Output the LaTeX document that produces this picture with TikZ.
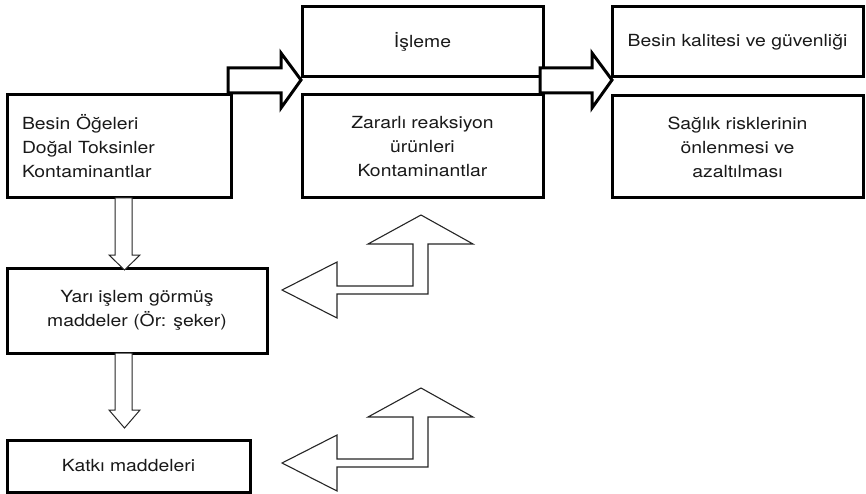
\documentclass[tikz,border=0pt]{standalone}
\usepackage{fontspec}
\setmainfont[FakeStretch=1.16]{TeX Gyre Heros}
\usetikzlibrary{calc}
\tikzstyle{box}=[draw,line width=3pt,inner sep=0pt,outer sep=0pt,align=center,text=black!90,font=\fontsize{16.7}{24}\selectfont]
\tikzstyle{fatarrow}=[draw,line width=3pt,fill=white,line join=miter]
\tikzstyle{hollow}=[draw=black!85,line width=1pt,fill=white]
\tikzstyle{bent}=[draw=black!85,line width=1.1pt,fill=white,line join=miter]

\begin{document}
\begin{tikzpicture}[x=1pt,y=-1pt]
      \useasboundingbox (0,0) rectangle (866,494);
      % left column
      \node[box,minimum width=224pt,minimum height=103pt,text width=194pt,inner xsep=15pt,align=left] (food) at (119,146.5) {Besin Öğeleri\\Doğal Toksinler\\Kontaminantlar};
      \node[box,minimum width=260pt,minimum height=85pt] (semi) at (137,310.5) {Yarı işlem görmüş\\maddeler (Ör: şeker)};
      \node[box,minimum width=243pt,minimum height=52pt] (additive) at (128.5,466) {Katkı maddeleri};
      % middle column
      \node[box,minimum width=241pt,minimum height=70pt] (process) at (422.5,42) {İşleme};
      \node[box,minimum width=241pt,minimum height=103pt] (harm) at (422.5,146.5) {Zararlı reaksiyon\\ürünleri\\Kontaminantlar};
      % right column
      \node[box,minimum width=251pt,minimum height=70pt] (quality) at (737.5,42) {Besin kalitesi ve güvenliği};
      \node[box,minimum width=251pt,minimum height=102pt] (health) at (737.5,147) {Sağlık risklerinin\\önlenmesi ve\\azaltılması};
      % thick arrows
      \draw[fatarrow] ($(process.south west)+(-1,3)$) -- ++(-20,-27) -- ++(0,15) -- ++(-53,0) -- ++(0,25) -- ++(53,0) -- ++(0,15) -- cycle;
      \draw[fatarrow] ($(quality.south west)+(0,3)$) -- ++(-20,-27) -- ++(0,15) -- ++(-52,0) -- ++(0,25) -- ++(52,0) -- ++(0,15) -- cycle;
      % down arrows
      \draw[hollow] ($(food.south)+(-4,0)$) -- ++(0,57) -- ++(-6,0) -- ++(15.5,15) -- ++(15.5,-15) -- ++(-8,0) -- ++(0,-57) -- cycle;
      \draw[hollow] ($(semi.south)+(-22,0)$) -- ++(0,57) -- ++(-6,0) -- ++(15.5,18) -- ++(15.5,-18) -- ++(-8,0) -- ++(0,-57) -- cycle;
      % bent arrows
      \draw[bent] ($(semi.east)+(15,-20.5)$) -- ++(55,-28) -- ++(0,24) -- ++(76,0) -- ++(0,-42) -- ++(-45,0) -- ++(53,-29) -- ++(52,29) -- ++(-45,0) -- ++(0,50) -- ++(-91,0) -- ++(0,24) -- cycle;
      \draw[bent] ($(additive.east)+(32,-3)$) -- ++(55,-28) -- ++(0,24) -- ++(76,0) -- ++(0,-42) -- ++(-45,0) -- ++(53,-29) -- ++(52,29) -- ++(-45,0) -- ++(0,50) -- ++(-91,0) -- ++(0,24) -- cycle;
    \end{tikzpicture}
\end{document}
